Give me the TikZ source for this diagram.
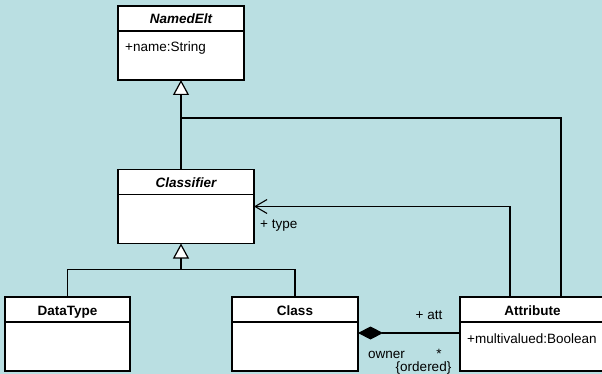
\documentclass[tikz,border=0pt]{standalone}
\usepackage{fontspec}
\setmainfont{Liberation Sans}
\definecolor{UMLBack}{RGB}{186,223,226}
\usetikzlibrary{arrows.meta,positioning}

\begin{document}
\begin{tikzpicture}[x=1pt,y=-1pt,
    font=\fontsize{13.5}{16}\selectfont,
    head/.style={draw,fill=white,line width=1.2pt,outer sep=0pt,inner sep=0pt,
                 font=\fontsize{13.5}{16}\selectfont\bfseries,minimum height=25pt,
                 text height=13pt,text depth=2pt},
    body/.style={draw,fill=white,line width=1.2pt,outer sep=0pt,minimum height=49pt},
    attr/.style={anchor=base west,inner sep=0pt},
    lbl/.style={anchor=base,inner sep=0pt},
    gen/.style={line width=1.6pt,-{Triangle[fill=white,line width=1.2pt,length=15pt,width=16pt]}},
    link/.style={line width=1.1pt},
    nav/.style={line width=1.1pt,-{Straight Barb[length=12pt,width=14pt]}},
    comp/.style={line width=1.1pt,-{Diamond[length=25pt,width=13pt]}}]
    \useasboundingbox (0,0) rectangle (602,374);
    \fill[UMLBack] (0,0) rectangle (602,374);

    \node[head,minimum width=126pt] (ne) at (181,18.5) {\itshape NamedElt};
    \node[body,minimum width=126pt,below=0pt of ne] (neb) {};
    \node[attr] (nea) at (125,52) {+name:String};

    \node[head,minimum width=136pt] (cl) at (186,182) {\itshape Classifier};
    \node[body,minimum width=136pt,below=0pt of cl] (clb) {};

    \node[head,minimum width=125pt] (dt) at (67.5,309.5) {DataType};
    \node[body,minimum width=125pt,below=0pt of dt] (dtb) {};

    \node[head,minimum width=126pt] (cs) at (295,309.5) {Class};
    \node[body,minimum width=126pt,below=0pt of cs] (csb) {};

    \node[head,minimum width=145pt] (at) at (532.5,309.5) {Attribute};
    \node[body,minimum width=145pt,below=0pt of at] (atb) {};
    \node[attr] (ata) at (467,343) {+multivalued:Boolean};

    % generalizations
    \draw[gen] (cl.north -| neb.south) -- (neb.south);
    \draw[link] ([xshift=28.5pt]at.north) |- ([yshift=-38pt]neb.south);
    \coordinate (fork) at ([yshift=-26pt]clb.south -| neb.south);
    \draw[link] (dt.north) |- (fork) -| (cs.north);
    \draw[gen] (fork) -- (fork |- clb.south);

    % associations
    \draw[nav] ([xshift=-22.5pt]at.north) |- ([yshift=-12pt]clb.north east);
    \node[anchor=base west,inner sep=0pt] (typ) at (260,229) {+ type};
    \draw[comp] ([yshift=-11pt]atb.north west) -- ([yshift=-11pt]csb.north east);
    \node[lbl] (att) at (429,319) {+ att};
    \node[lbl] (own) at (386.5,358) {owner};
    \node[lbl] (mul) at (439,358) {*};
    \node[lbl] (ord) at (423.5,371) {\{ordered\}};
\end{tikzpicture}
\end{document}
